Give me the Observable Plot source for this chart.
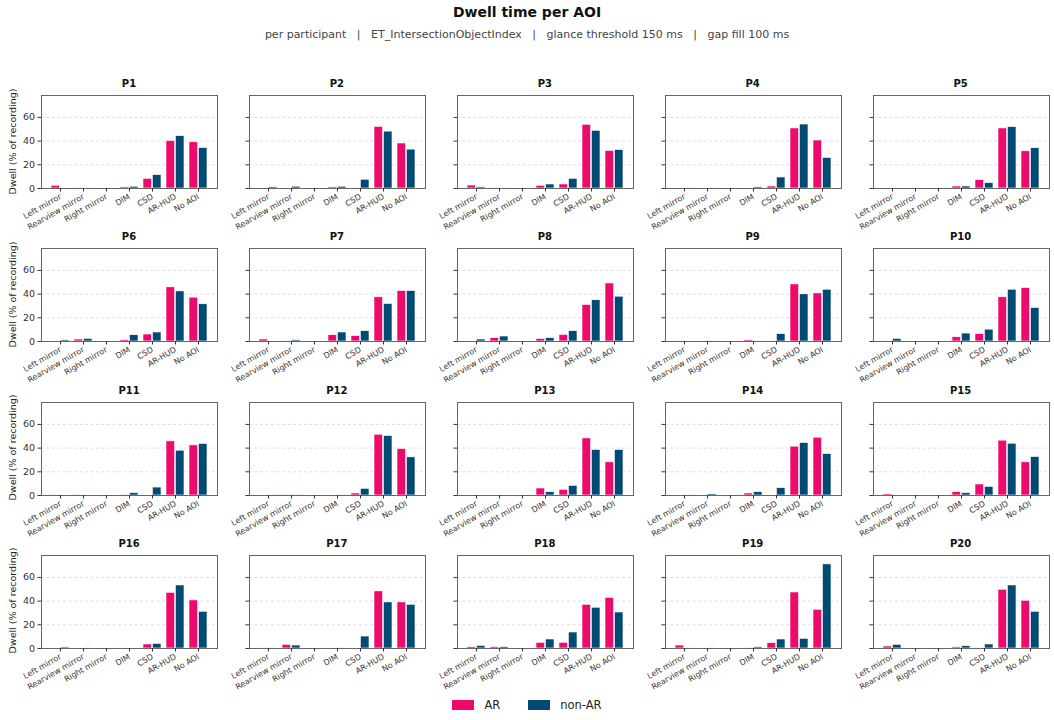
<!DOCTYPE html>
<html><head><meta charset="utf-8">
<script src="https://cdn.jsdelivr.net/npm/d3@7"></script>
<script src="https://cdn.jsdelivr.net/npm/@observablehq/plot@0.6"></script>
<style>
body{margin:0;background:#fff;font-family:"DejaVu Sans",sans-serif;}
#root{position:relative;width:1054px;height:720px;overflow:hidden;background:#fff}
.abs{position:absolute;white-space:nowrap}
</style></head><body><div id="root"></div>
<script>
const aois = ["Left mirror","Rearview mirror","Right mirror","DIM","CSD","AR-HUD","No AOI"];
const participants = ["P1","P2","P3","P4","P5","P6","P7","P8","P9","P10","P11","P12","P13","P14","P15","P16","P17","P18","P19","P20"];
const seriesNames = ["AR","non-AR"];
const seriesColors = ["#EE0A6C","#004B73"];
const arValues = [
  [2.3,0.5,0,1,8.2,40.2,39],
  [0,0,0,1,0.5,52,38],
  [2.5,0.5,0,2.3,3.4,53.8,31.7],
  [0,0,0,0,1.7,50.7,40.5],
  [0,0,0,1.7,7,50.7,31.4],
  [0,1.7,0,1.1,5.9,45.7,37],
  [1.7,0.5,0,5.3,4.5,37.3,42.6],
  [0,2.8,0,2.2,5.6,30.8,49],
  [0.5,0,0,1,0.5,48.2,40.6],
  [0.5,0,0,3.6,6.2,37.3,45.1],
  [0.5,0.5,0,0.5,0,45.7,42.3],
  [0,0.5,0,0,1.7,51.3,39.2],
  [0,0,0,5.9,4.8,48.2,28],
  [0,0,0,1.7,0,41.2,48.8],
  [1,0,0,2.8,9.3,46.3,28],
  [0,0,0,0,3.4,47,40.6],
  [0.5,3.1,0,0,0,48.2,38.9],
  [1.1,1.1,0,4.8,4.8,36.9,42.8],
  [2.5,0,0,0.5,4.5,47.3,32.7],
  [1.7,0,0,1,0.5,49.6,40.3]
];
const nonArValues = [
  [0,0.5,0,1.5,11.3,44.2,34.2],
  [1,1.5,0,1.5,7.4,48,32.8],
  [1,0.5,0,3.4,8.2,48.7,32.5],
  [0.5,0.5,0,1,9.3,54,25.8],
  [0,0,0,1.7,4.5,51.8,34],
  [1,2.2,0,5.3,7.6,42.3,31.4],
  [0,1,0,7.6,8.7,31.7,42.6],
  [1.7,4.2,0,2.8,8.7,34.8,37.8],
  [0,0.5,0,0.5,6.2,39.8,43.7],
  [2.2,0,0,6.7,10,43.7,28.3],
  [0,0,0,2,6.7,37.8,43.5],
  [0.5,0.5,0,0.5,5.6,50.2,32.2],
  [0,0,0,2.8,8.1,38.4,38.4],
  [0.5,1,0,2.8,6.2,44.3,35],
  [0,0,0,2,7.3,43.7,32.5],
  [0.9,0.5,0,0,3.9,53.2,31],
  [0.5,2.5,0,0.5,10.1,38.9,36.9],
  [2.2,1.1,0,7.6,13.5,34.4,30.4],
  [0.5,0.5,0,1,7.6,8.2,71],
  [3.1,0,0,2,3.4,53.2,31]
];
const yTicks = [0,20,40,60];
const yMax = 78.5;
const titleText = "Dwell time per AOI";
const subtitleText = "per participant   |   ET_IntersectionObjectIndex   |   glance threshold 150 ms   |   gap fill 100 ms";
const yLabel = "Dwell (% of recording)";

const root = document.getElementById("root");
function addDiv(text, css){const d=document.createElement("div");d.className="abs";d.textContent=text;Object.assign(d.style,css);root.appendChild(d);return d;}

addDiv(titleText,{left:"0",width:"1054px",textAlign:"center",top:"4px",fontSize:"14px",fontWeight:"bold",color:"#111"});
addDiv(subtitleText,{left:"0",width:"1054px",textAlign:"center",top:"28px",fontSize:"11px",color:"#444",whiteSpace:"pre"});

const FL=41, FSTEP=207.9, FW=176, FT=95, RSTEP=153.3, FH=93;
const ML=40, MR=8, MT=4, MB=55;
const padIn=0.2, padOut=0.34;
const step = FW/(aois.length - padIn + 2*padOut);
const half = step*(1-padIn)/2;

participants.forEach((p,i)=>{
  const r=Math.floor(i/5), c=i%5;
  const left = FL + c*FSTEP, top = FT + r*RSTEP;
  const arRows = aois.map((a,k)=>({aoi:a, value:arValues[i][k]}));
  const nonRows = aois.map((a,k)=>({aoi:a, value:nonArValues[i][k]}));
  const chart = Plot.plot({
    width: ML+FW+MR, height: MT+FH+MB,
    marginLeft: ML, marginRight: MR, marginTop: MT, marginBottom: MB,
    style:{overflow:"visible", background:"transparent", fontFamily:"DejaVu Sans", color:"#333"},
    x:{domain:aois, paddingInner:padIn, paddingOuter:padOut, axis:null},
    y:{domain:[0,yMax], axis:null},
    marks:[
      Plot.ruleY(yTicks.slice(1), {stroke:"#d6d6d6", strokeDasharray:"3,2.5", strokeWidth:0.8}),
      Plot.barY(arRows, {x:"aoi", y:"value", fill:seriesColors[0], insetRight:half, stroke:"white", strokeWidth:0.6}),
      Plot.barY(nonRows, {x:"aoi", y:"value", fill:seriesColors[1], insetLeft:half, stroke:"white", strokeWidth:0.6}),
      Plot.frame({stroke:"#666", strokeWidth:1}),
      Plot.axisX({tickRotate:-30, tickSize:3.5, tickPadding:4, fontSize:8, label:null, stroke:"#333"}),
      Plot.axisY({ticks:yTicks, tickSize:3.5, tickPadding:3, fontSize:9.5, label:null,
        tickFormat: c===0 ? (d=>String(d)) : (()=>"")})
    ]
  });
  chart.style.position="absolute";
  chart.style.left=(left-ML)+"px";
  chart.style.top=(top-MT)+"px";
  root.appendChild(chart);
  addDiv(p,{left:left+"px", width:FW+"px", textAlign:"center", top:(top-17)+"px", fontSize:"10px", fontWeight:"bold", color:"#111"});
  if(c===0){
    addDiv(yLabel,{left:(12-60)+"px", width:"120px", textAlign:"center", top:(top+FH/2-6)+"px", fontSize:"9.5px", color:"#222", transform:"rotate(-90deg)"});
  }
});

// legend
const leg = document.createElement("div");
leg.className="abs";
Object.assign(leg.style,{left:"0",width:"1054px",top:"698px",display:"flex",justifyContent:"center",alignItems:"center",fontSize:"11.5px",color:"#222"});
seriesNames.forEach((n,k)=>{
  const sw=document.createElement("span");
  Object.assign(sw.style,{display:"inline-block",width:"22px",height:"10px",background:seriesColors[k],marginRight:"10px",marginLeft:k?"28px":"0"});
  const t=document.createElement("span"); t.textContent=n;
  leg.appendChild(sw); leg.appendChild(t);
});
root.appendChild(leg);
</script></body></html>
